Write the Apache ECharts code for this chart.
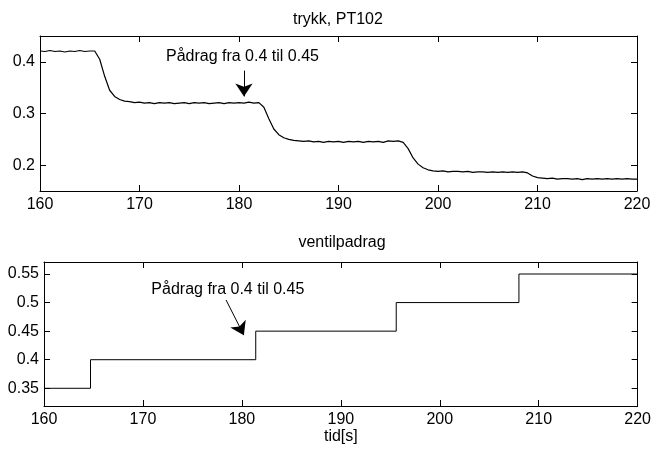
<!DOCTYPE html>
<html>
<head>
<meta charset="utf-8">
<script src="https://cdn.jsdelivr.net/npm/echarts@6/dist/echarts.min.js"></script>
<style>
  html, body { margin: 0; padding: 0; background: #fff; }
  #chart { width: 654px; height: 449px; }
</style>
</head>
<body>
<div id="chart"></div>
<script>
// trykk, PT102 (sampled every 0.5 s)
const trykkTid = [
  160.0, 160.5, 161.0, 161.5, 162.0, 162.5, 163.0, 163.5, 164.0, 164.5,
  165.0, 165.5, 166.0, 166.5, 167.0, 167.5, 168.0, 168.5, 169.0, 169.5,
  170.0, 170.5, 171.0, 171.5, 172.0, 172.5, 173.0, 173.5, 174.0, 174.5,
  175.0, 175.5, 176.0, 176.5, 177.0, 177.5, 178.0, 178.5, 179.0, 179.5,
  180.0, 180.5, 181.0, 181.5, 182.0, 182.5, 183.0, 183.5, 184.0, 184.5,
  185.0, 185.5, 186.0, 186.5, 187.0, 187.5, 188.0, 188.5, 189.0, 189.5,
  190.0, 190.5, 191.0, 191.5, 192.0, 192.5, 193.0, 193.5, 194.0, 194.5,
  195.0, 195.5, 196.0, 196.5, 197.0, 197.5, 198.0, 198.5, 199.0, 199.5,
  200.0, 200.5, 201.0, 201.5, 202.0, 202.5, 203.0, 203.5, 204.0, 204.5,
  205.0, 205.5, 206.0, 206.5, 207.0, 207.5, 208.0, 208.5, 209.0, 209.5,
  210.0, 210.5, 211.0, 211.5, 212.0, 212.5, 213.0, 213.5, 214.0, 214.5,
  215.0, 215.5, 216.0, 216.5, 217.0, 217.5, 218.0, 218.5, 219.0, 219.5,
  220.0
]
const trykkVerdi = [
  0.421, 0.420, 0.422, 0.420, 0.421, 0.419, 0.421, 0.420, 0.422, 0.420,
  0.421, 0.421, 0.405, 0.372, 0.345, 0.333, 0.327, 0.324, 0.323, 0.321,
  0.322, 0.320, 0.321, 0.319, 0.321, 0.320, 0.321, 0.319, 0.320, 0.321,
  0.319, 0.321, 0.320, 0.321, 0.319, 0.320, 0.321, 0.319, 0.321, 0.320,
  0.321, 0.320, 0.322, 0.320, 0.321, 0.312, 0.290, 0.270, 0.259, 0.253,
  0.250, 0.248, 0.247, 0.246, 0.247, 0.245, 0.246, 0.244, 0.246, 0.245,
  0.246, 0.244, 0.246, 0.245, 0.246, 0.244, 0.246, 0.245, 0.246, 0.244,
  0.247, 0.246, 0.247, 0.244, 0.232, 0.214, 0.202, 0.195, 0.191, 0.189,
  0.188, 0.189, 0.187, 0.188, 0.188, 0.187, 0.188, 0.186, 0.187, 0.187,
  0.186, 0.187, 0.186, 0.187, 0.186, 0.187, 0.186, 0.187, 0.185, 0.179,
  0.176, 0.175, 0.174, 0.175, 0.173, 0.174, 0.174, 0.173, 0.174, 0.172,
  0.174, 0.173, 0.174, 0.173, 0.174, 0.173, 0.174, 0.173, 0.174, 0.173,
  0.173
]

// ventilpadrag (step signal)
const padragTid = [160, 164.7, 181.4, 195.6, 208.0, 220]
const padragVerdi = [0.35, 0.40, 0.45, 0.50, 0.55, 0.55]

// axis ticks
const trykkTicks = [0.2, 0.3, 0.4]
const padragTicks = [0.35, 0.4, 0.45, 0.5, 0.55]

const annotasjon = 'Pådrag fra 0.4 til 0.45'

const chart = echarts.init(document.getElementById('chart'), null, { renderer: 'canvas' })

const font = { fontFamily: 'Liberation Sans, Arial, sans-serif', fontSize: 16, color: '#000' }
const black = { color: '#000', width: 1 }

function xAxes(grid, top) {
  return [
    {
      type: 'value', gridIndex: grid, position: 'bottom', min: 160, max: 220, interval: 10,
      axisLine: { lineStyle: black },
      axisTick: { inside: true, length: 6, lineStyle: black },
      axisLabel: { ...font, margin: 6 },
      splitLine: { show: false },
      ...(top ? {} : { name: 'tid[s]', nameLocation: 'middle', nameGap: 23, nameTextStyle: font }),
    },
    {
      type: 'value', gridIndex: grid, position: 'top', min: 160, max: 220, interval: 10,
      axisLine: { lineStyle: black },
      axisTick: { inside: true, length: 6, lineStyle: black },
      axisLabel: { show: false },
      splitLine: { show: false },
    },
  ]
}

function yAxes(grid, min, max, ticks) {
  return [
    {
      type: 'value', gridIndex: grid, position: 'left', min, max,
      axisLine: { lineStyle: black },
      axisTick: { inside: true, length: 6, lineStyle: black, customValues: ticks },
      axisLabel: { ...font, margin: 5, customValues: ticks },
      splitLine: { show: false },
    },
    {
      type: 'value', gridIndex: grid, position: 'right', min, max,
      axisLine: { lineStyle: black },
      axisTick: { inside: true, length: 6, lineStyle: black, customValues: ticks },
      axisLabel: { show: false, customValues: ticks },
      splitLine: { show: false },
    },
  ]
}

function pil(from, to) {
  return {
    silent: true,
    symbol: ['none', 'arrow'],
    symbolSize: 13,
    itemStyle: { color: '#000' },
    lineStyle: { color: '#000', width: 1, type: 'solid' },
    label: { show: false },
    data: [[{ coord: from }, { coord: to }]],
  }
}

function tekst(at) {
  return {
    silent: true,
    symbol: 'circle',
    symbolSize: 0,
    label: { show: true, position: 'right', distance: 0, formatter: annotasjon, ...font },
    data: [{ coord: at }],
  }
}

chart.setOption({
  animation: false,
  backgroundColor: '#fff',
  title: [
    { text: 'trykk, PT102', left: 338, top: 12, textAlign: 'center', padding: 0, textStyle: { ...font, fontWeight: 'normal' } },
    { text: 'ventilpadrag', left: 342, top: 235, textAlign: 'center', padding: 0, textStyle: { ...font, fontWeight: 'normal' } },
  ],
  grid: [
    { left: 40, top: 36, width: 597, height: 155 },
    { left: 44, top: 262, width: 597, height: 144 },
  ],
  xAxis: [...xAxes(0, true), ...xAxes(1, false)],
  yAxis: [...yAxes(0, 0.15, 0.45, trykkTicks), ...yAxes(1, 0.319, 0.571, padragTicks)],
  series: [
    {
      name: 'trykk, PT102',
      type: 'line',
      xAxisIndex: 0,
      yAxisIndex: 0,
      data: trykkTid.map((t, i) => [t, trykkVerdi[i]]),
      showSymbol: false,
      lineStyle: { color: '#000', width: 1.2 },
      markLine: pil([180.5, 0.383], [180.5, 0.333]),
      markPoint: tekst([172.66, 0.4103]),
    },
    {
      name: 'ventilpadrag',
      type: 'line',
      xAxisIndex: 2,
      yAxisIndex: 2,
      step: 'end',
      data: padragTid.map((t, i) => [t, padragVerdi[i]]),
      showSymbol: false,
      lineStyle: { color: '#000', width: 1 },
      markLine: pil([178.4, 0.5045], [180.2, 0.443]),
      markPoint: tekst([170.85, 0.522]),
    },
  ],
})
</script>
</body>
</html>
